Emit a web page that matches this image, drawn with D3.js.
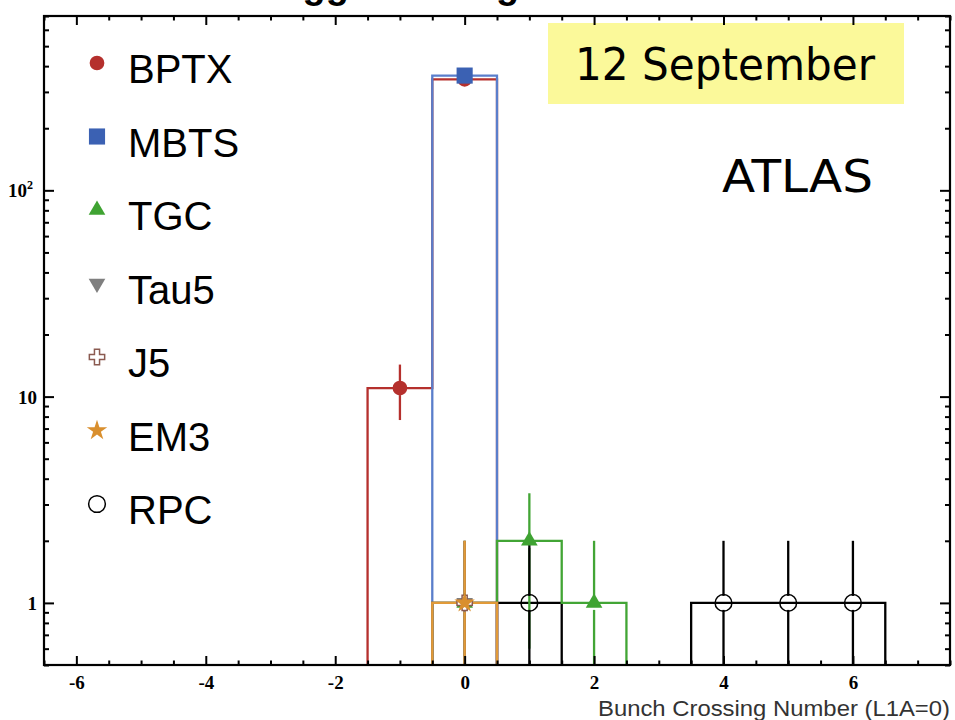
<!DOCTYPE html>
<html><head><meta charset="utf-8">
<script src="https://cdn.jsdelivr.net/npm/d3@7"></script>
<style>body{margin:0;background:#fff}</style></head>
<body>
<svg id="c" width="955" height="720"></svg>
<script>
// ---------- data ----------
const seriesNames = ["BPTX", "MBTS", "TGC", "Tau5", "J5", "EM3", "RPC"];
const bptxBins = [-1, 0],        bptxCounts = [11, 345],   bptxErrors = [3.3, 18.6];
const mbtsBins = [0],            mbtsCounts = [360],       mbtsErrors = [19];
const tgcBins  = [0, 1, 2],      tgcCounts  = [1, 2, 1],   tgcErrors  = [1, 1.4, 1];
const tau5Bins = [0],            tau5Counts = [1],         tau5Errors = [1];
const j5Bins   = [0],            j5Counts   = [1],         j5Errors   = [1];
const em3Bins  = [0],            em3Counts  = [1],         em3Errors  = [1];
const rpcBins  = [1, 4, 5, 6],   rpcCounts  = [1, 1, 1, 1], rpcErrors = [1, 1, 1, 1];
const xTickValues = [-6, -4, -2, 0, 2, 4, 6];
const yTickValues = [1, 10, 100];
const titleText = "Trigger Timing";
const dateLabel = "12 September";
const expLabel = "ATLAS";
const xTitle = "Bunch Crossing Number (L1A=0)";

// ---------- styles ----------
const style = {
  BPTX: {line: "#b5302d", fill: "#b5302d", stroke: "none", sym: d3.symbolCircle, size: 170, rot: 0},
  MBTS: {line: "#5a7ecb", fill: "#3b61b3", stroke: "none", sym: d3.symbolSquare, size: 260, rot: 0},
  TGC:  {line: "#42a535", fill: "#3fa332", stroke: "none", sym: d3.symbolTriangle, size: 120, rot: 0},
  Tau5: {line: "#7f7f7f", fill: "#7f7f7f", stroke: "none", sym: d3.symbolTriangle, size: 120, rot: 180},
  J5:   {line: "#8a5a50", fill: "#ffffff", stroke: "#8a5a50", sym: d3.symbolCross, size: 130, rot: 0},
  EM3:  {line: "#e19a38", fill: "#d98f2e", stroke: "none", sym: d3.symbolStar, size: 130, rot: 0},
  RPC:  {line: "#000000", fill: "none", stroke: "#000000", sym: d3.symbolCircle, size: 220, rot: 0}
};
const data = {
  BPTX: {bins: bptxBins, counts: bptxCounts, errors: bptxErrors},
  MBTS: {bins: mbtsBins, counts: mbtsCounts, errors: mbtsErrors},
  TGC:  {bins: tgcBins,  counts: tgcCounts,  errors: tgcErrors},
  Tau5: {bins: tau5Bins, counts: tau5Counts, errors: tau5Errors},
  J5:   {bins: j5Bins,   counts: j5Counts,   errors: j5Errors},
  EM3:  {bins: em3Bins,  counts: em3Counts,  errors: em3Errors},
  RPC:  {bins: rpcBins,  counts: rpcCounts,  errors: rpcErrors}
};

const L = 44, R = 950, T = 16, B = 665;
const svg = d3.select("#c");
const x = d3.scaleLinear().domain([-6.5, 7.5]).range([L, R]);
const y = d3.scaleLog().domain([0.5, 700]).range([B, T]);

svg.append("defs").append("clipPath").attr("id", "plot")
  .append("rect").attr("x", L).attr("y", T).attr("width", R - L).attr("height", B - T);

// title (cut off at the top of the picture, only descenders visible)
svg.append("text").attr("x", 256).attr("y", -2)
  .attr("font-family", "Liberation Sans, Arial, sans-serif").attr("font-weight", "bold")
  .attr("font-size", 38).attr("fill", "#000").text(titleText);

// date box
const gBox = svg.append("g");
gBox.append("rect").attr("x", 548).attr("y", 23).attr("width", 356).attr("height", 81).attr("fill", "#fbf99a");
gBox.append("text").attr("x", 575).attr("y", 80)
  .attr("font-family", "'Comic Sans MS', 'DejaVu Sans', sans-serif").attr("font-size", 44)
  .attr("textLength", 300).attr("lengthAdjust", "spacingAndGlyphs").attr("fill", "#000").text(dateLabel);
svg.append("text").attr("x", 722).attr("y", 192)
  .attr("font-family", "'Comic Sans MS', 'DejaVu Sans', sans-serif").attr("font-size", 44)
  .attr("textLength", 151).attr("lengthAdjust", "spacingAndGlyphs").attr("fill", "#000").text(expLabel);

const plot = svg.append("g").attr("clip-path", "url(#plot)");

// histogram step lines
function stepPath(bins, counts) {
  const idx = d3.range(bins.length).sort((a, b) => bins[a] - bins[b]);
  let p = "", prev = null;
  idx.forEach(i => {
    const b = bins[i], c = counts[i];
    if (prev === null || b !== prev + 1) {
      if (prev !== null) p += `L${x(prev + 0.5)},${B + 5}`;
      p += `M${x(b - 0.5)},${B + 5}`;
    }
    p += `L${x(b - 0.5)},${y(c)}L${x(b + 0.5)},${y(c)}`;
    prev = b;
  });
  if (prev !== null) p += `L${x(prev + 0.5)},${B + 5}`;
  return p;
}
const lineOrder = ["BPTX", "MBTS", "RPC", "TGC", "Tau5", "J5", "EM3"];
lineOrder.forEach(n => {
  plot.append("path").attr("d", stepPath(data[n].bins, data[n].counts))
    .attr("fill", "none").attr("stroke", style[n].line).attr("stroke-width", 2.3);
});

// error bars
const errOrder = ["BPTX", "MBTS", "TGC", "Tau5", "J5", "EM3", "RPC"];
const gap = 7;
errOrder.forEach(n => {
  const d = data[n];
  d.bins.forEach((b, i) => {
    const c = d.counts[i], e = d.errors[i];
    const yc = y(c), yt = y(c + e);
    const lo = c - e;
    const yb = lo > 0.5 ? y(lo) : B + 5;
    const g = plot.append("g").attr("stroke", style[n].line).attr("stroke-width", 2.3);
    if (yc - gap > yt) g.append("line").attr("x1", x(b)).attr("x2", x(b)).attr("y1", yt).attr("y2", yc - gap);
    if (yb > yc + gap) g.append("line").attr("x1", x(b)).attr("x2", x(b)).attr("y1", yc + gap).attr("y2", yb);
  });
});

// markers
function marker(g, n, cx, cy) {
  const s = style[n];
  g.append("path").attr("d", d3.symbol(s.sym, s.size)())
    .attr("transform", `translate(${cx},${cy}) rotate(${s.rot})`)
    .attr("fill", s.fill).attr("stroke", s.stroke).attr("stroke-width", s.stroke === "none" ? 0 : 1.5);
}
const markOrder = ["BPTX", "MBTS", "TGC", "RPC", "Tau5", "J5", "EM3"];
markOrder.forEach(n => {
  const d = data[n];
  d.bins.forEach((b, i) => marker(plot, n, x(b), y(d.counts[i])));
});

// frame & axes
svg.append("rect").attr("x", L).attr("y", T).attr("width", R - L).attr("height", B - T)
  .attr("fill", "none").attr("stroke", "#000").attr("stroke-width", 2.2);

const xMinor = d3.range(-6.5, 7.51, 0.5).filter(v => !xTickValues.includes(v));
const yMinor = [];
[0.1, 1, 10, 100].forEach(dec => d3.range(2, 10).forEach(m => {
  const v = dec * m; if (v >= 0.5 && v <= 700 && !yTickValues.includes(v)) yMinor.push(v);
}));

function styleAxis(g) { g.select(".domain").remove(); g.selectAll("line").attr("stroke", "#000").attr("stroke-width", 2); }

const labelFont = "'Liberation Serif', 'Times New Roman', serif";
const xb = svg.append("g").attr("transform", `translate(0,${B})`)
  .call(d3.axisBottom(x).tickValues(xTickValues).tickSize(-9).tickPadding(11).tickFormat(d => String(d)));
styleAxis(xb);
xb.selectAll("text").attr("font-family", labelFont).attr("font-weight", "bold").attr("font-size", 19).attr("fill", "#000");
svg.append("g").attr("transform", `translate(0,${B})`)
  .call(d3.axisBottom(x).tickValues(xMinor).tickSize(-4.5).tickFormat("")).call(styleAxis);
svg.append("g").attr("transform", `translate(0,${T})`)
  .call(d3.axisTop(x).tickValues(xTickValues).tickSize(-9).tickFormat("")).call(styleAxis);
svg.append("g").attr("transform", `translate(0,${T})`)
  .call(d3.axisTop(x).tickValues(xMinor).tickSize(-4.5).tickFormat("")).call(styleAxis);

const yl = svg.append("g").attr("transform", `translate(${L},0)`)
  .call(d3.axisLeft(y).tickValues(yTickValues).tickSize(-10).tickPadding(6).tickFormat(d => d === 100 ? "10" : String(d)));
styleAxis(yl);
yl.selectAll("text").attr("font-family", labelFont).attr("font-weight", "bold").attr("font-size", 19).attr("fill", "#000")
  .attr("x", -7).attr("dy", "0.35em");
yl.selectAll(".tick").filter(d => d === 100).select("text")
  .attr("x", -11).append("tspan").attr("font-size", 12).attr("dy", "-0.7em").text("2");
svg.append("g").attr("transform", `translate(${L},0)`)
  .call(d3.axisLeft(y).tickValues(yMinor).tickSize(-5).tickFormat("")).call(styleAxis);
svg.append("g").attr("transform", `translate(${R},0)`)
  .call(d3.axisRight(y).tickValues(yTickValues).tickSize(-10).tickFormat("")).call(styleAxis);
svg.append("g").attr("transform", `translate(${R},0)`)
  .call(d3.axisRight(y).tickValues(yMinor).tickSize(-5).tickFormat("")).call(styleAxis);

svg.append("text").attr("x", 950).attr("y", 716).attr("text-anchor", "end")
  .attr("font-family", "'Liberation Sans', Arial, sans-serif").attr("font-size", 22)
  .attr("textLength", 352).attr("lengthAdjust", "spacingAndGlyphs").attr("fill", "#333").text(xTitle);

// legend
const leg = svg.append("g");
seriesNames.forEach((n, i) => {
  const by = 83 + i * 73.5;
  marker(leg, n, 97, by - 20);
  leg.append("text").attr("x", 128).attr("y", by)
    .attr("font-family", "'Liberation Sans', Arial, sans-serif").attr("font-size", 40).attr("fill", "#000").text(n);
});
</script>
</body></html>
